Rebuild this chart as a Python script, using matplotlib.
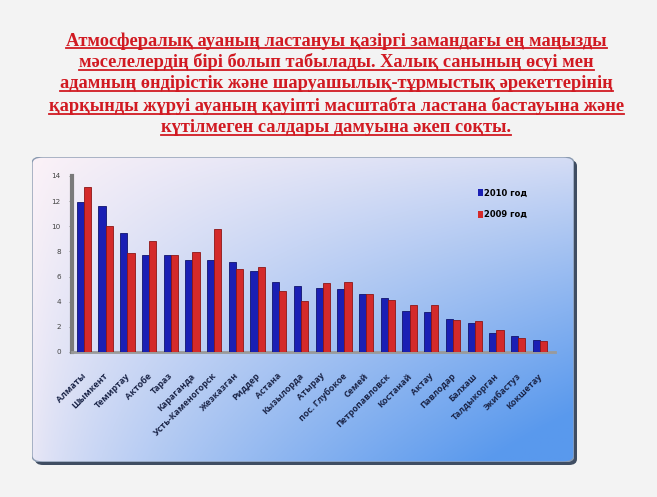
import numpy as np
import matplotlib
matplotlib.use("Agg")
import matplotlib.pyplot as plt
from matplotlib.patches import FancyBboxPatch, Patch
from matplotlib.lines import Line2D

cities = ["Алматы", "Шымкент", "Темиртау", "Актобе", "Тараз", "Караганда",
          "Усть-Каменогорск", "Жезказган", "Риддер", "Астана", "Кызылорда",
          "Атырау", "пос. Глубокое", "Семей", "Петропавловск", "Костанай",
          "Актау", "Павлодар", "Балхаш", "Талдыкорган", "Экибастуз", "Кокшетау"]
y2010 = [11.9, 11.6, 9.5, 7.75, 7.75, 7.35, 7.35, 7.15, 6.45, 5.6, 5.25,
         5.1, 5.0, 4.65, 4.3, 3.25, 3.15, 2.65, 2.3, 1.5, 1.25, 0.95]
y2009 = [13.1, 10.05, 7.9, 8.85, 7.7, 7.95, 9.8, 6.6, 6.8, 4.85, 4.05,
         5.45, 5.55, 4.6, 4.15, 3.7, 3.7, 2.55, 2.45, 1.75, 1.1, 0.9]
yticks = [0, 2, 4, 6, 8, 10, 12, 14]

title_lines = [
    "Атмосфералық ауаның ластануы қазіргі замандағы ең маңызды",
    "мәселелердің бірі болып табылады. Халық санының өсуі мен",
    "адамның өндірістік және шаруашылық-тұрмыстық әрекеттерінің",
    "қарқынды жүруі ауаның қауіпті масштабта ластана бастауына және",
    "күтілмеген салдары дамуына әкеп соқты.",
]

W, H = 657, 497
fig = plt.figure(figsize=(W / 100, H / 100), dpi=100)
fig.patch.set_facecolor("#f3f3f3")

# title, red serif bold, underlined
red = "#d11a22"
title_y = [41, 62, 84, 106, 128]
texts = []
for line, ty in zip(title_lines, title_y):
    t = fig.text(0.512, 1 - ty / H, line, ha="center", va="center",
                 fontsize=13.2, fontweight="bold", color=red,
                 family="Liberation Serif")
    texts.append(t)

# rounded panel with shadow and gradient
px0, px1, py0, py1 = 32, 574, 157, 462
shadow = FancyBboxPatch(((px0 + 3) / W, 1 - (py1 + 3) / H),
                        (px1 - px0) / W, (py1 - py0) / H,
                        boxstyle="round,pad=0,rounding_size=0.012",
                        transform=fig.transFigure, facecolor="#3f4d62",
                        edgecolor="none", zorder=-5)
fig.patches.append(shadow)

bg = fig.add_axes([px0 / W, 1 - py1 / H, (px1 - px0) / W, (py1 - py0) / H],
                  zorder=1)
bg.set_axis_off()
gx, gy = np.meshgrid(np.linspace(0, 1, 200), np.linspace(0, 1, 200))
s = np.clip(gx * (0.15 + 0.85 * gy), 0, 1) ** 0.75  # gy: 0 top -> 1 bottom
s = np.clip(s + 0.12 * gy, 0, 1)
c0 = np.array([0.99, 0.95, 0.97])
c1 = np.array([0.35, 0.60, 0.93])
img = c0[None, None, :] * (1 - s[..., None]) + c1[None, None, :] * s[..., None]
im = bg.imshow(img, extent=[0, 1, 0, 1], origin="upper", aspect="auto")
bg.set_xlim(0, 1)
bg.set_ylim(0, 1)
clip = FancyBboxPatch((0, 0), 1, 1, boxstyle="round,pad=0,rounding_size=0.02",
                      transform=bg.transAxes, facecolor="none",
                      edgecolor="#8a9ab0", linewidth=1.0)
bg.add_patch(clip)
im.set_clip_path(clip)

# chart axes
ax_left, ax_right, ax_top, ax_bot = 72, 555, 176, 352
ax = fig.add_axes([ax_left / W, 1 - ax_bot / H, (ax_right - ax_left) / W,
                   (ax_bot - ax_top) / H], zorder=2)
ax.patch.set_alpha(0)
x = np.arange(len(cities))
w = 0.33
ax.bar(x - w / 2, y2010, w, color="#1a1fb4", edgecolor="#10146e",
       linewidth=0.6, label="2010 год", zorder=3)
ax.bar(x + w / 2, y2009, w, color="#d42a2a", edgecolor="#8e1616",
       linewidth=0.6, label="2009 год", zorder=3)
ax.set_xlim(-0.55, 21.7)
ax.set_ylim(0, 14)
ax.set_yticks(yticks)
ax.set_yticklabels([str(v) for v in yticks], fontsize=5.2, color="#444444")
ax.tick_params(axis="y", length=2, width=0.6, color="#888888", pad=6)
ax.set_xticks(x - 0.1)
ax.set_xticklabels(cities, rotation=45, ha="right", va="top",
                   rotation_mode="anchor", fontsize=6.4, fontweight="bold",
                   color="#1b2548", family="Open Sans")
ax.tick_params(axis="x", length=0, pad=14)
for sp in ["top", "right"]:
    ax.spines[sp].set_visible(False)
ax.spines["left"].set_color("#7a7a7a")
ax.spines["left"].set_linewidth(3)
ax.spines["bottom"].set_color("#9a9a9a")
ax.spines["bottom"].set_linewidth(2)

ax.legend(handles=[Patch(facecolor="#1a1fb4", label="2010 год"),
                   Patch(facecolor="#d42a2a", label="2009 год")],
          loc="upper left", bbox_to_anchor=((470 - ax_left) / (ax_right - ax_left), 0.97),
          frameon=False, handlelength=0.6, handleheight=0.9,
          handletextpad=0.2, labelspacing=1.5, prop={"weight": "bold", "size": 6})

# underline each title line
fig.canvas.draw()
r = fig.canvas.get_renderer()
for t in texts:
    bb = t.get_window_extent(r)
    yy = (bb.y0 + 1.5) / H
    fig.lines.append(Line2D([bb.x0 / W, bb.x1 / W], [yy, yy],
                            transform=fig.transFigure, color=red, linewidth=1.3))

plt.savefig("out.png", dpi=100, facecolor=fig.get_facecolor())
